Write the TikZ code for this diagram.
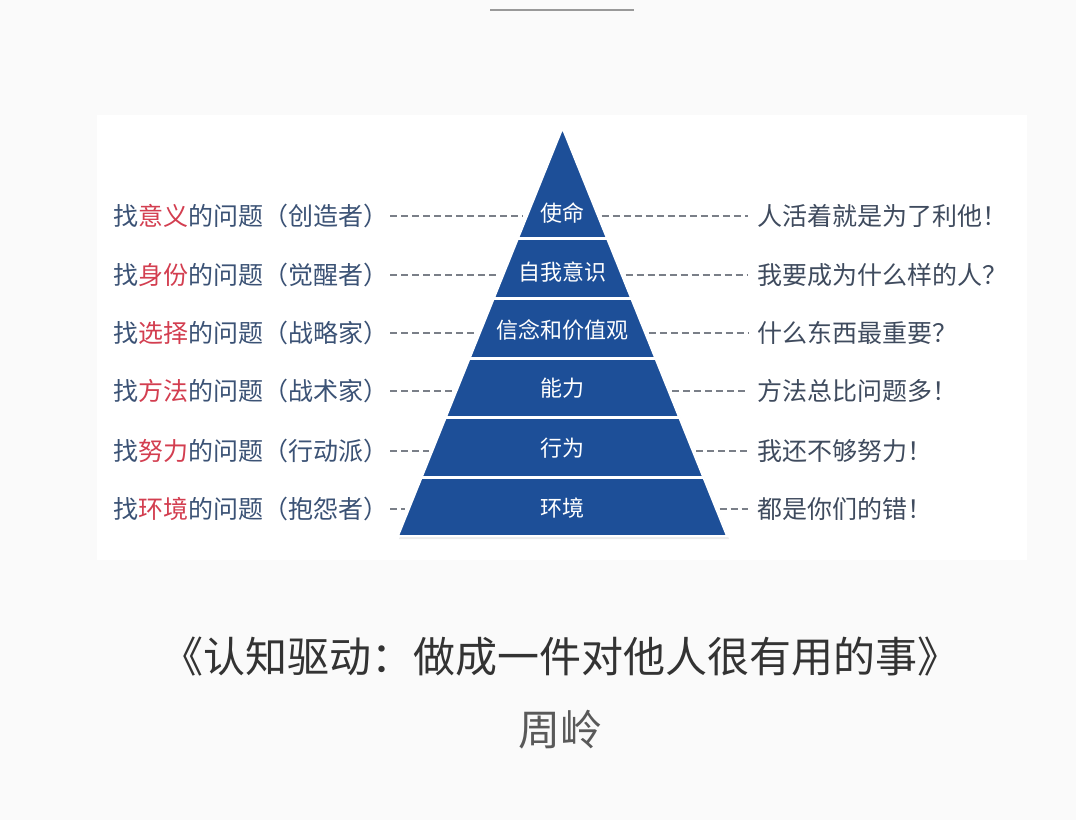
\documentclass[tikz,border=0pt]{standalone}
\usepackage{fontspec}
\setmainfont{Noto Sans CJK SC}
\usepackage{xcolor}
\usetikzlibrary{positioning, calc}
\definecolor{pagebg}{HTML}{FAFAFA}
\definecolor{pyrblue}{HTML}{1D4F98}
\definecolor{qtext}{HTML}{3B5275}
\definecolor{kwred}{HTML}{D33E50}
\definecolor{atext}{HTML}{3F4B5E}
\definecolor{dashgray}{HTML}{7A7F88}
\newcommand{\kw}[1]{\textcolor{kwred}{#1}}

\begin{document}
\begin{tikzpicture}[x=1pt, y=-1pt,
   band/.style={text=white, inner sep=0pt, font=\fontsize{22}{22}\selectfont},
   qlabel/.style={anchor=west, inner sep=0pt, text=qtext, font=\fontsize{25}{25}\selectfont},
   alabel/.style={anchor=west, inner sep=0pt, text=atext, font=\fontsize{25}{25}\selectfont},
   leader/.style={draw=dashgray, line width=1.1pt, dash pattern=on 7pt off 4pt},
   booktitle/.style={inner sep=0pt, text=black!80, font=\fontsize{42}{42}\selectfont}]
  % page, panel and the short rule at the top
  \fill[pagebg] (0,0) rectangle (1076,820);
  \useasboundingbox (0,0) rectangle (1076,820);
  \fill[white] (97,115) rectangle (1027,560);
  \draw[black!40, line width=2pt] (490,10) -- (634,10);
  % pyramid
  \fill[black!8] (563.5,130) -- (399,539) -- (729,539) -- cycle;
  \filldraw[fill=pyrblue, draw=white, line width=2pt] (562.5,128) -- (398,536) -- (727,536) -- cycle;
  \foreach \y in {238,298,358,417,477}
    \draw[white, line width=3pt] ({562.5-0.402*(\y-128)},\y) -- ({562.5+0.402*(\y-128)},\y);
  \foreach \name/\txt/\y in {b1/使命/213, b2/自我意识/272, b3/信念和价值观/330,
                             b4/能力/388, b5/行为/448, b6/环境/508}
    \node[band] (\name) at (562.5,\y) {\txt};
  % questions on the left, answers on the right
  \foreach \i/\y/\q/\a in {
      1/216/找\kw{意义}的问题（创造者）/人活着就是为了利他！,
      2/275/找\kw{身份}的问题（觉醒者）/我要成为什么样的人？,
      3/333/找\kw{选择}的问题（战略家）/什么东西最重要？,
      4/391/找\kw{方法}的问题（战术家）/方法总比问题多！,
      5/451/找\kw{努力}的问题（行动派）/我还不够努力！,
      6/509/找\kw{环境}的问题（抱怨者）/都是你们的错！}{
    \node[qlabel] (q\i) at (113,\y) {\q};
    \node[alabel] (a\i) at (757,\y) {\a};
    \coordinate (ql\i) at ({562.5-0.402*(\y-128)-4},\y);
    \coordinate (qr\i) at ({562.5+0.402*(\y-128)+4},\y);
    \draw[leader] ([xshift=2pt]q\i.east) -- (ql\i);
    \draw[leader] (qr\i) -- ([xshift=-9pt]a\i.west);
  }
  % book and author
  \node[booktitle] (title) at (560,657) {《认知驱动：做成一件对他人很有用的事》};
  \node[booktitle, text=black!65, below=33pt of title] (author) {周岭};
\end{tikzpicture}
\end{document}
